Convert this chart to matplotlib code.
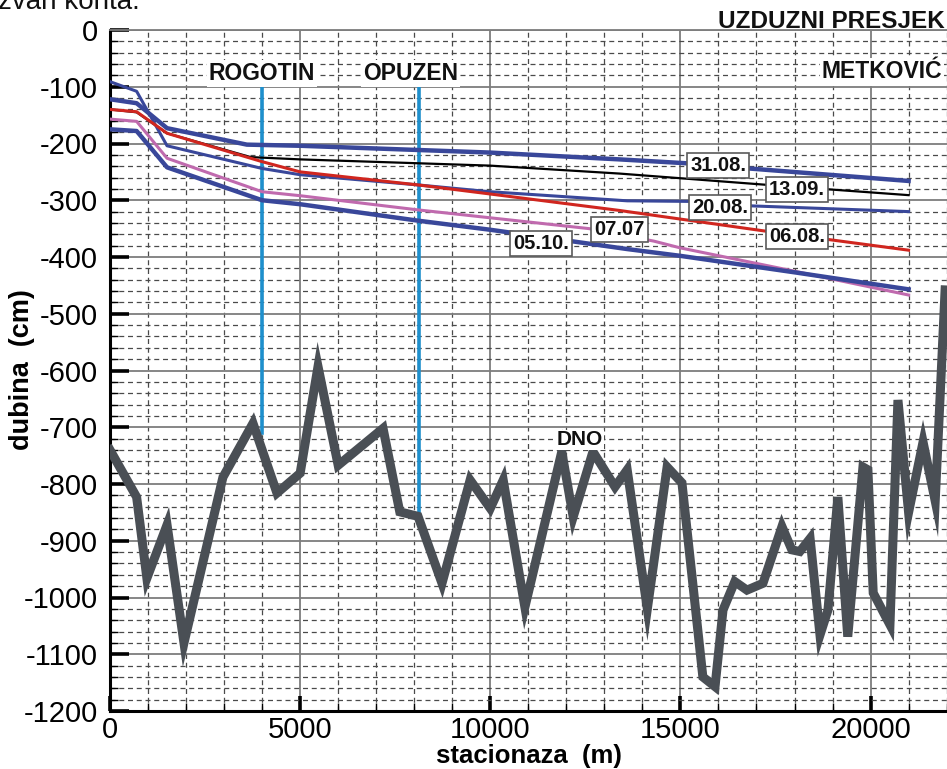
import matplotlib
matplotlib.use("Agg")
import matplotlib.pyplot as plt
from matplotlib.ticker import MultipleLocator

plt.rcParams['font.family'] = ['Liberation Sans', 'DejaVu Sans']
plt.rcParams['axes.unicode_minus'] = False

# ---- data ----
x_3108 = [0, 700, 1500, 3600, 5000, 10000, 13400, 15200, 16800, 21000]
y_3108 = [-122, -129, -173, -202, -204, -216, -228, -235, -244, -266]

x_1309 = [0, 700, 1500, 3700, 5000, 10000, 13400, 17300, 21000]
y_1309 = [-140, -145, -182, -224, -228, -239, -253, -273, -291]

x_2008 = [0, 700, 1500, 4000, 5000, 8100, 10000, 13600, 15200, 16900, 21000]
y_2008 = [-91, -108, -204, -244, -255, -273, -285, -301, -302, -310, -320]

x_0608 = [0, 700, 1500, 4000, 5000, 8100, 10000, 13400, 17300, 21000]
y_0608 = [-140, -144, -182, -232, -250, -273, -289, -318, -355, -388]

x_0707 = [0, 700, 1500, 4000, 5000, 8100, 12600, 14300, 15000, 18000, 21000]
y_0707 = [-157, -161, -226, -285, -292, -317, -350, -372, -384, -425, -467]

x_0510 = [0, 700, 1500, 4000, 5000, 8100, 10000, 13600, 15000, 18000, 21000]
y_0510 = [-175, -178, -242, -300, -307, -336, -352, -386, -398, -427, -457]

dno_x = [0, 700, 970, 1500, 1945, 2970, 3760, 4390, 5000, 5470, 6000, 7180,
         7620, 8100, 8730, 9470, 10000, 10340, 10910, 11880, 12180, 12700,
         13280, 13600, 14130, 14650, 15040, 15590, 15910, 16120, 16430, 16750,
         17170, 17670, 17930, 18140, 18410, 18670, 18880, 19140, 19400, 19800,
         19930, 20070, 20510, 20720, 21000, 21380, 21700, 21960]
dno_y = [-740, -823, -966, -872, -1080, -788, -693, -816, -781, -593, -767, -702,
         -849, -857, -975, -793, -843, -793, -1017, -743, -858, -743,
         -805, -775, -1020, -770, -798, -1140, -1157, -1022, -972, -987,
         -975, -875, -916, -919, -896, -1066, -1022, -823, -1069, -770,
         -775, -992, -1048, -652, -850, -726, -830, -458]

stations = ["ROGOTIN", "OPUZEN"]
station_x = [4000, 8130]
station_bottom = [-710, -855]
station_label_x = [4000, 7900]

date_labels = ["31.08.", "13.09.", "20.08.", "06.08.", "07.07", "05.10."]
date_label_x = [16000, 18070, 16040, 18070, 13400, 11330]
date_label_y = [-239, -281, -312, -364, -352, -376]

xticks = [0, 5000, 10000, 15000, 20000]
yticks = list(range(-1200, 1, 100))

# ---- figure ----
W, H = 947, 769
fig = plt.figure(figsize=(W / 100, H / 100), dpi=100)
ax = fig.add_axes([110 / W, (H - 711) / H, (W - 110) / W, (711 - 30) / H])
ax.set_xlim(0, 22010)
ax.set_ylim(-1200, 0)

ax.xaxis.set_major_locator(MultipleLocator(5000))
ax.xaxis.set_minor_locator(MultipleLocator(1000))
ax.yaxis.set_major_locator(MultipleLocator(100))
ax.yaxis.set_minor_locator(MultipleLocator(20))
ax.set_xticks(xticks)
ax.set_yticks(yticks)

ax.grid(which='major', color='#7d7d7d', lw=1.3, ls='-', zorder=0)
ax.grid(which='minor', color='#4a4a4a', lw=0.9, ls=(0, (4, 3)), zorder=0)
ax.set_axisbelow(True)

ax.tick_params(axis='y', which='major', direction='in', length=14, width=2.6,
               labelsize=21, pad=9, color='black')
ax.tick_params(axis='x', which='major', direction='in', length=11, width=2.6,
               labelsize=21, pad=3.5, color='black')
ax.tick_params(axis='both', which='minor', direction='in', length=6, width=1.0,
               color='black')

for s in ['left', 'bottom']:
    ax.spines[s].set_linewidth(2.2)
    ax.spines[s].set_color('black')
ax.spines['top'].set_color('#7d7d7d')
ax.spines['top'].set_linewidth(1.3)
ax.spines['right'].set_visible(False)

# station vertical lines
for sx, sb in zip(station_x, station_bottom):
    ax.plot([sx, sx], [-100, sb], color='#1e8fcc', lw=2.6, zorder=2)

# water level lines
blue = '#39479a'
ax.plot(x_3108, y_3108, color=blue, lw=3.2, zorder=3)
ax.plot(x_1309, y_1309, color='black', lw=1.6, zorder=3)
ax.plot(x_2008, y_2008, color=blue, lw=2.2, zorder=3)
ax.plot(x_0608, y_0608, color='#d0261f', lw=2.2, zorder=3)
ax.plot(x_0707, y_0707, color='#c06aae', lw=2.2, zorder=3)
ax.plot(x_0510, y_0510, color=blue, lw=3.2, zorder=3)

# bottom (DNO)
ax.plot(dno_x, dno_y, color='#4a4f55', lw=6.5, solid_joinstyle='miter', zorder=4)

# station labels
bold = dict(fontweight='bold', color='#111111')
for name, lx in zip(stations, station_label_x):
    ax.text(lx, -76, name, ha='center', va='center', fontsize=16.5,
            bbox=dict(facecolor='white', edgecolor='none', pad=1.5), zorder=5, **bold)
ax.text(20300, -74, "METKOVIĆ", ha='center', va='center', fontsize=16.5,
        bbox=dict(facecolor='white', edgecolor='none', pad=1.5), zorder=5, **bold)
ax.text(12360, -722, "DNO", ha='center', va='center', fontsize=15,
        bbox=dict(facecolor='white', edgecolor='none', pad=0.5), zorder=5, **bold)

for lab, lx, ly in zip(date_labels, date_label_x, date_label_y):
    ax.text(lx, ly, lab, ha='center', va='center', fontsize=14.5,
            bbox=dict(facecolor='white', edgecolor='#5a5a5a', lw=1.2,
                      boxstyle='square,pad=0.15'), zorder=6, **bold)

# axis labels
ax.set_xlabel("stacionaza  (m)", fontsize=18.5, fontweight='bold', labelpad=0,
              va='center')
ax.xaxis.set_label_coords(0.5, -(756 - 711) / (711 - 30))
fig.text(22 / W, 1 - 370 / H, "dubina  (cm)", rotation=90, ha='center',
         va='center', fontsize=19.5, fontweight='bold')

# title and cut-off document text
fig.text(945 / W, 1 - 21 / H, "UZDUZNI PRESJEK", ha='right', va='center',
         fontsize=17.5, fontweight='bold', color='#111111')
fig.text(-2 / W, 1 - 9 / H, "zvan korita.", ha='left', va='baseline',
         fontsize=20, color='#111111')

fig.savefig("out.png", dpi=100)
